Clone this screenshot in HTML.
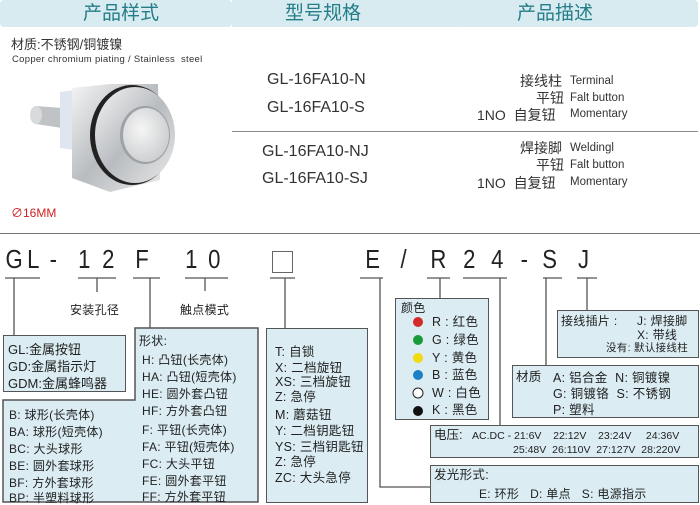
<!DOCTYPE html>
<html><head><meta charset="utf-8">
<style>
*{margin:0;padding:0;box-sizing:border-box}
body{width:700px;height:505px;background:#fff;position:relative;overflow:hidden;font-family:"Liberation Sans","Noto Sans CJK SC",sans-serif;color:#222}
.a{position:absolute;white-space:nowrap;line-height:1}
.hd{position:absolute;top:0;height:27px;background:#d7ebf1;border-radius:4px}
.ht{position:absolute;top:4px;font-size:19px;color:#257d88;line-height:1}
.c{position:absolute;top:246px;font-size:26px;line-height:1;color:#222;transform:scaleX(.85);font-family:"Liberation Sans",sans-serif}
.t{position:absolute;font-size:12px;line-height:1;white-space:nowrap;letter-spacing:.3px}
.m{font-size:16px;color:#333}
.d{font-size:14px;color:#333}
.e{font-size:11.5px;color:#333}
.box{position:absolute;background:#dbedf3;border:1.5px solid #555}
</style></head><body>
<div class="hd" style="left:0;width:232px"></div>
<div class="hd" style="left:232px;width:236px;border-radius:0"></div>
<div class="hd" style="left:460px;width:238px"></div>
<div class="ht" style="left:83px">产品样式</div>
<div class="ht" style="left:285px">型号规格</div>
<div class="ht" style="left:517px">产品描述</div>

<div class="a" style="left:11px;top:38px;font-size:13px;color:#333">材质:不锈钢/铜镀镍</div>
<div class="a" style="left:12px;top:55px;font-size:9.5px;color:#333;letter-spacing:.3px">Copper chromium piating / Stainless&nbsp; steel</div>
<div class="a" style="left:11px;top:207px;font-size:12px;color:#c22">∅16MM</div>

<svg style="position:absolute;left:0;top:70px" width="200" height="130">
<defs>
<linearGradient id="g1" x1="0" y1="0" x2="1" y2="1"><stop offset="0" stop-color="#f4f4f4"/><stop offset=".5" stop-color="#b8bcc0"/><stop offset="1" stop-color="#e8e8e8"/></linearGradient>
<radialGradient id="g2" cx=".4" cy=".4" r=".7"><stop offset="0" stop-color="#f6f6f6"/><stop offset="1" stop-color="#c8cacc"/></radialGradient>
</defs>
<path d="M36,36 L62,38 L62,58 L36,54 Z" fill="#bfc3c6"/>
<ellipse cx="36" cy="45" rx="6" ry="9" fill="#d8dadc"/>
<path d="M60,22 L75,20 L75,80 L60,78 Z" fill="#dfe6f0"/>
<path d="M72,18 L110,14 L158,14 L160,110 L110,122 L72,108 Z" fill="url(#g1)"/>
<ellipse cx="132" cy="65" rx="42" ry="50" fill="#222"/>
<ellipse cx="135" cy="65" rx="40" ry="48" fill="url(#g1)"/>
<ellipse cx="145" cy="65" rx="25" ry="29" fill="#9ea2a6"/>
<ellipse cx="146" cy="65" rx="23" ry="27" fill="url(#g2)"/>
</svg>

<div class="a m" style="left:267px;top:72px">GL-16FA10-N</div>
<div class="a m" style="left:267px;top:100px">GL-16FA10-S</div>
<div style="position:absolute;left:232px;top:131px;width:466px;height:1px;background:#888"></div>
<div class="a m" style="left:262px;top:144px">GL-16FA10-NJ</div>
<div class="a m" style="left:262px;top:171px">GL-16FA10-SJ</div>

<div class="a d" style="left:520px;top:74px">接线柱</div><div class="a e" style="left:570px;top:76px">Terminal</div>
<div class="a d" style="left:536px;top:91px">平钮</div><div class="a e" style="left:570px;top:93px">Falt button</div>
<div class="a d" style="left:477px;top:108px">1NO&nbsp; 自复钮</div><div class="a e" style="left:570px;top:109px">Momentary</div>
<div class="a d" style="left:520px;top:141px">焊接脚</div><div class="a e" style="left:570px;top:143px">Weldingl</div>
<div class="a d" style="left:536px;top:158px">平钮</div><div class="a e" style="left:570px;top:160px">Falt button</div>
<div class="a d" style="left:477px;top:176px">1NO&nbsp; 自复钮</div><div class="a e" style="left:570px;top:177px">Momentary</div>

<div style="position:absolute;left:0;top:233px;width:700px;height:1px;background:#777"></div>

<div class="c" style="left:4px">G</div>
<div class="c" style="left:26px">L</div>
<div class="c" style="left:49px">-</div>
<div class="c" style="left:77px">1</div>
<div class="c" style="left:101px">2</div>
<div class="c" style="left:134px">F</div>
<div class="c" style="left:184px">1</div>
<div class="c" style="left:207px">0</div>
<div style="position:absolute;left:272px;top:251px;width:21px;height:22px;border:1.5px solid #666"></div>
<div class="c" style="left:364px">E</div>
<div class="c" style="left:400px">/</div>
<div class="c" style="left:429px">R</div>
<div class="c" style="left:462px">2</div>
<div class="c" style="left:490px">4</div>
<div class="c" style="left:520px">-</div>
<div class="c" style="left:541px">S</div>
<div class="c" style="left:577px">J</div>

<svg style="position:absolute;left:0;top:0" width="700" height="505">
<g stroke="#555" stroke-width="1.3" fill="none">
<path d="M5,278H40 M78,278H116 M133,278H160 M185,278H228 M270,278H295 M360,278H383 M427,278H450 M463,278H507 M543,278H562 M577,278H597"/>
<path d="M14,278V336 M97,278V292 M150,278V328 M205,278V291 M285,278V328 M380,278V487H431 M440,278V298 M500,278V426 M546,278V366 M587,278V311"/>
</g>
<path d="M135,328H258V502H3V400H135Z" fill="#dbedf3" stroke="#555" stroke-width="1.5"/>
</svg>

<div class="box" style="left:3px;top:335px;width:123px;height:57px"></div>
<div class="t" style="left:8px;top:343px;font-size:13px;letter-spacing:0">GL:金属按钮</div>
<div class="t" style="left:8px;top:360px;font-size:13px;letter-spacing:0">GD:金属指示灯</div>
<div class="t" style="left:8px;top:377px;font-size:13px;letter-spacing:0">GDM:金属蜂鸣器</div>

<div class="t" style="left:139px;top:335px">形状:</div>
<div class="t" style="left:142px;top:354px">H: 凸钮(长壳体)</div>
<div class="t" style="left:142px;top:371px">HA: 凸钮(短壳体)</div>
<div class="t" style="left:142px;top:388px">HE: 圆外套凸钮</div>
<div class="t" style="left:142px;top:405px">HF: 方外套凸钮</div>
<div class="t" style="left:142px;top:424px">F: 平钮(长壳体)</div>
<div class="t" style="left:142px;top:441px">FA: 平钮(短壳体)</div>
<div class="t" style="left:142px;top:458px">FC: 大头平钮</div>
<div class="t" style="left:142px;top:475px">FE: 圆外套平钮</div>
<div class="t" style="left:142px;top:491px">FF: 方外套平钮</div>

<div class="t" style="left:9px;top:409px">B: 球形(长壳体)</div>
<div class="t" style="left:9px;top:426px">BA: 球形(短壳体)</div>
<div class="t" style="left:9px;top:443px">BC: 大头球形</div>
<div class="t" style="left:9px;top:460px">BE: 圆外套球形</div>
<div class="t" style="left:9px;top:477px">BF: 方外套球形</div>
<div class="t" style="left:9px;top:492px">BP: 半塑料球形</div>

<div class="t" style="left:70px;top:304px">安装孔径</div>
<div class="t" style="left:180px;top:304px">触点模式</div>

<div class="box" style="left:266px;top:328px;width:102px;height:175px"></div>
<div class="t" style="left:275px;top:346px;font-size:12.5px">T: 自锁</div>
<div class="t" style="left:275px;top:362px;font-size:12.5px">X: 二档旋钮</div>
<div class="t" style="left:275px;top:376px;font-size:12.5px">XS: 三档旋钮</div>
<div class="t" style="left:275px;top:391px;font-size:12.5px">Z: 急停</div>
<div class="t" style="left:275px;top:409px;font-size:12.5px">M: 蘑菇钮</div>
<div class="t" style="left:275px;top:425px;font-size:12.5px">Y: 二档钥匙钮</div>
<div class="t" style="left:275px;top:441px;font-size:12.5px">YS: 三档钥匙钮</div>
<div class="t" style="left:275px;top:456px;font-size:12.5px">Z: 急停</div>
<div class="t" style="left:275px;top:472px;font-size:12.5px">ZC: 大头急停</div>

<div class="box" style="left:395px;top:298px;width:94px;height:122px"></div>
<div class="t" style="left:401px;top:302px;font-size:12px">颜色</div>
<svg style="position:absolute;left:410px;top:315px" width="20" height="105">
<circle cx="8" cy="7" r="5" fill="#d42a2a"/><circle cx="8" cy="25" r="5" fill="#1a9a3a"/><circle cx="8" cy="43" r="5" fill="#f0dc10"/><circle cx="8" cy="60" r="5" fill="#1c80c4"/><circle cx="8" cy="78" r="5" fill="#fff" stroke="#222"/><circle cx="8" cy="96" r="5" fill="#111"/>
</svg>
<div class="t" style="left:432px;top:316px;font-size:12.5px">R : 红色</div>
<div class="t" style="left:432px;top:334px;font-size:12.5px">G : 绿色</div>
<div class="t" style="left:432px;top:352px;font-size:12.5px">Y : 黄色</div>
<div class="t" style="left:432px;top:369px;font-size:12.5px">B : 蓝色</div>
<div class="t" style="left:432px;top:387px;font-size:12.5px">W : 白色</div>
<div class="t" style="left:432px;top:404px;font-size:12.5px">K : 黑色</div>

<div class="box" style="left:557px;top:310px;width:142px;height:48px"></div>
<div class="t" style="left:561px;top:315px;font-size:12px">接线插片 :</div>
<div class="t" style="left:637px;top:315px;font-size:12px">J: 焊接脚</div>
<div class="t" style="left:637px;top:329px;font-size:12px">X: 带线</div>
<div class="t" style="left:606px;top:343px;font-size:10.5px">没有: 默认接线柱</div>

<div class="box" style="left:512px;top:365px;width:187px;height:53px"></div>
<div class="t" style="left:516px;top:371px;font-size:12.5px">材质</div>
<div class="t" style="left:553px;top:372px;font-size:12.5px">A: 铝合金&nbsp; N: 铜镀镍</div>
<div class="t" style="left:553px;top:388px;font-size:12.5px">G: 铜镀铬&nbsp; S: 不锈钢</div>
<div class="t" style="left:553px;top:404px;font-size:12.5px">P: 塑料</div>

<div class="box" style="left:430px;top:425px;width:269px;height:33px"></div>
<div class="t" style="left:434px;top:429px;font-size:12.5px;letter-spacing:0">电压:</div>
<div class="t" style="left:472px;top:431px;font-size:10.5px;letter-spacing:0;word-spacing:0">AC.DC - 21:6V&nbsp;&nbsp;&nbsp; 22:12V&nbsp;&nbsp;&nbsp; 23:24V&nbsp;&nbsp;&nbsp;&nbsp; 24:36V</div>
<div class="t" style="left:513px;top:445px;font-size:10.5px;letter-spacing:0">25:48V&nbsp; 26:110V&nbsp; 27:127V&nbsp; 28:220V</div>

<div class="box" style="left:430px;top:465px;width:269px;height:38px"></div>
<div class="t" style="left:434px;top:469px;font-size:12.5px">发光形式:</div>
<div class="t" style="left:479px;top:488px;font-size:12px">E: 环形&nbsp;&nbsp; D: 单点&nbsp;&nbsp; S: 电源指示</div>
</body></html>
